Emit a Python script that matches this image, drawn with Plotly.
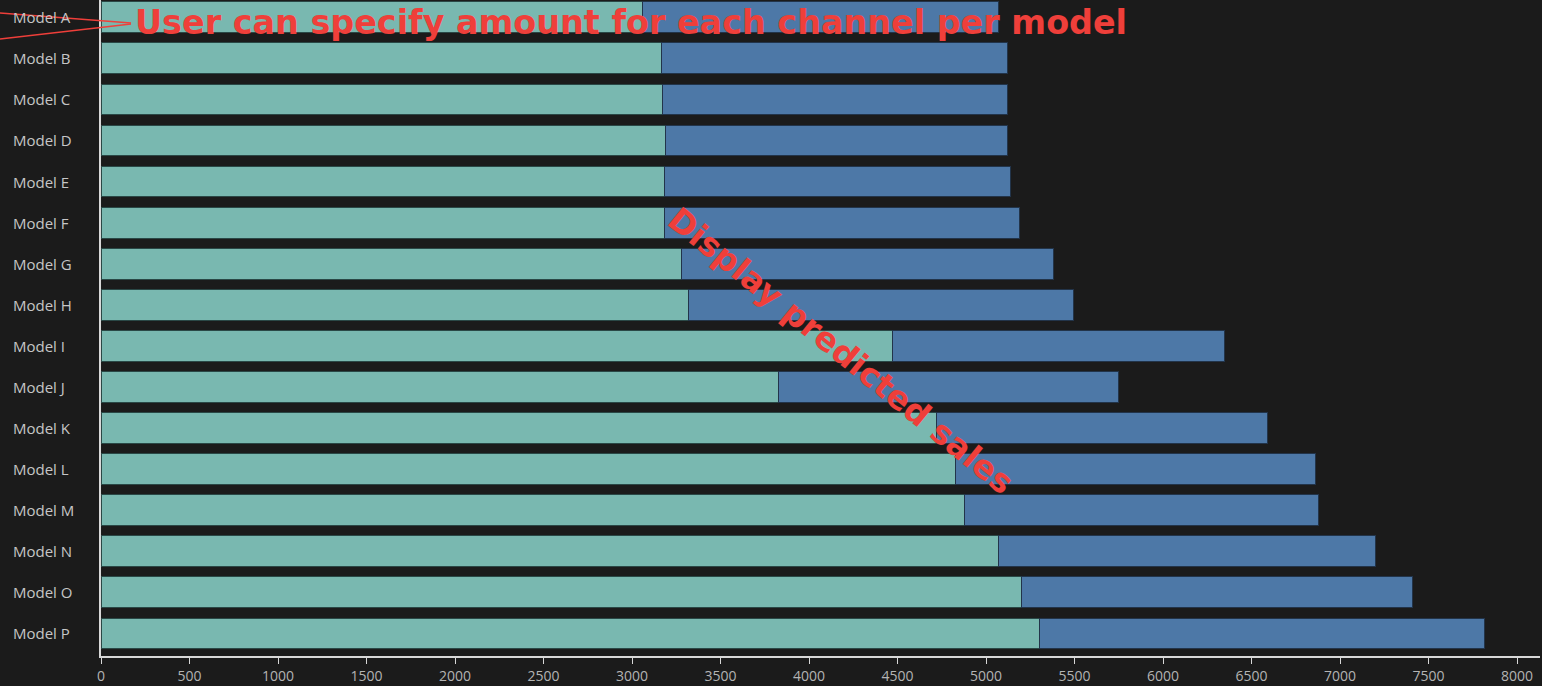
import plotly.graph_objects as go

# Sales by model, split into two channels (stacked horizontally)
models = ["Model A", "Model B", "Model C", "Model D", "Model E", "Model F",
          "Model G", "Model H", "Model I", "Model J", "Model K", "Model L",
          "Model M", "Model N", "Model O", "Model P"]
channel_1 = [3062, 3164, 3175, 3192, 3181, 3181, 3277, 3322,
             4469, 3825, 4723, 4825, 4876, 5068, 5203, 5305]
totals = [5068, 5119, 5119, 5119, 5136, 5192, 5384, 5492,
          6350, 5751, 6593, 6864, 6876, 7198, 7407, 7819]
channel_2 = [t - c for t, c in zip(totals, channel_1)]
x_ticks = list(range(0, 8001, 500))

BG = "#1b1b1b"
RED = "#ef3f3a"
TEAL = "#79b8b0"
BLUE = "#4d78a7"

W, H = 1542, 686
ML, MR, MT, MB = 101, 2, 0, 30
PW, PH = W - ML - MR, H - MT - MB


def px_to_paper(px, py):
    return (px - ML) / PW, 1 - (py - MT) / PH


fig = go.Figure()
fig.add_trace(go.Bar(
    y=models, x=channel_1, orientation="h", name="Channel 1",
    marker=dict(color=TEAL, line=dict(color="#2a4846", width=1)),
))
fig.add_trace(go.Bar(
    y=models, x=channel_2, orientation="h", name="Channel 2",
    marker=dict(color=BLUE, line=dict(color="#22344a", width=1)),
))

annotations = []
# left-aligned category labels
lx, _ = px_to_paper(11, 0)
for m in models:
    annotations.append(dict(
        x=lx, xref="paper", y=m, yref="y", text=m, showarrow=False,
        xanchor="left", yanchor="middle",
        font=dict(family="Open Sans", size=15, color="#c6c6c6"),
    ))

# callout texts
tx, ty = px_to_paper(133, 22)
annotations.append(dict(
    x=tx, xref="paper", y=ty, yref="paper", xanchor="left", yanchor="middle",
    text="<b>User can specify amount for each channel per model</b>",
    showarrow=False, font=dict(family="DejaVu Sans", size=33.4, color=RED),
))
dx, dy = px_to_paper(841, 350)
annotations.append(dict(
    x=dx, xref="paper", y=dy, yref="paper", xanchor="center", yanchor="middle",
    text="<b>Display predicted sales</b>", textangle=39,
    showarrow=False, font=dict(family="DejaVu Sans", size=33, color=RED),
))

# pointer lines for the top callout
shapes = []
for (x0, y0), (x1, y1) in [((0, 13), (131, 23)), ((0, 39), (131, 24))]:
    a0, b0 = px_to_paper(x0, y0)
    a1, b1 = px_to_paper(x1, y1)
    shapes.append(dict(type="line", xref="paper", yref="paper",
                       x0=a0, y0=b0, x1=a1, y1=b1,
                       line=dict(color=RED, width=1.3)))

fig.update_layout(
    width=W, height=H,
    margin=dict(l=ML, r=MR, t=MT, b=MB),
    paper_bgcolor=BG, plot_bgcolor=BG,
    barmode="stack", bargap=0.25, showlegend=False,
    annotations=annotations, shapes=shapes,
    xaxis=dict(
        range=[0, PW / ((1517 - 101) / 8000)],
        tickvals=x_ticks, ticktext=[str(v) for v in x_ticks],
        showgrid=False, zeroline=False,
        showline=True, linecolor="#d8d8d8", linewidth=1.5,
        ticks="outside", ticklen=6, tickcolor="#d8d8d8", tickwidth=1,
        tickfont=dict(family="Open Sans", size=14, color="#b4b4b4"),
    ),
    yaxis=dict(
        type="category", range=[15.55, -0.42],
        showticklabels=False, showgrid=False, zeroline=False,
        showline=True, linecolor="#d8d8d8", linewidth=1.5, ticks="",
    ),
)

fig.write_html("out.html")
